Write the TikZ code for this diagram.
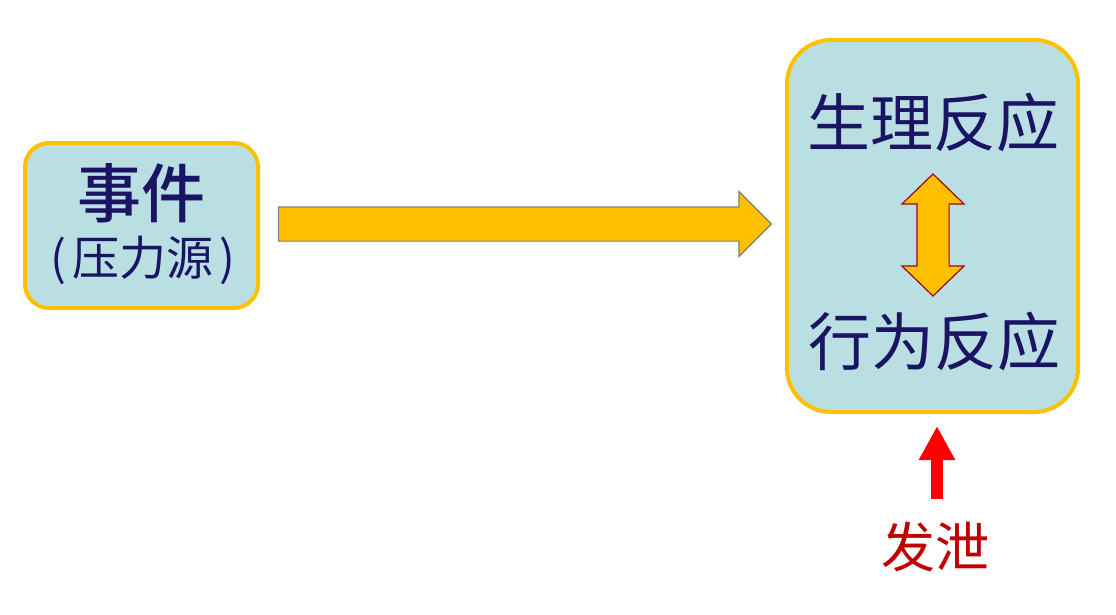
\documentclass[tikz,border=0pt]{standalone}
\usepackage{fontspec}
\setmainfont{Noto Sans CJK SC}
\newfontfamily\cjkmed{Noto Sans CJK SC Medium}
\usetikzlibrary{shapes.arrows,arrows.meta,positioning}
\definecolor{boxfill}{HTML}{BADFE3}
\definecolor{boxline}{HTML}{FFC000}
\definecolor{ink}{HTML}{1B1464}
\definecolor{ventred}{HTML}{C00000}
\definecolor{darkrim}{HTML}{A50021}

\begin{document}
\begin{tikzpicture}[x=1pt,y=-1pt,
  box/.style={draw=boxline,fill=boxfill,line width=4pt},
  bigtext/.style={text=ink,font=\fontsize{63}{70}\selectfont,inner sep=0pt},
  subtext/.style={text=ink,font=\fontsize{47}{52}\selectfont,inner sep=0pt}]
\useasboundingbox[fill=white] (0,0) rectangle (1116,614);

% stressor box
\node[box,rounded corners=24pt,minimum width=233pt,minimum height=165pt] (event) at (141.5,225.5) {};
\node[bigtext,font=\fontsize{64}{70}\selectfont\cjkmed] (eventtitle) at (141,193) {事件};
\node[subtext] (eventsub) at (143,260) {(\hspace{6pt}压力源\hspace{6pt})};

% reaction box
\node[box,rounded corners=44pt,minimum width=291pt,minimum height=372pt] (react) at (932.5,226) {};
\node[bigtext] (body) at (933,123) {生理反应};
\node[bigtext] (act) at (934,342) {行为反应};

% arrows
\node[single arrow,fill=boxline,draw=gray,line width=1.2pt,inner xsep=0pt,inner ysep=16.5pt,
  minimum height=493pt,minimum width=64pt,single arrow head extend=15.5pt,
  single arrow tip angle=90] (push) at (516.5,224) {};
\node[double arrow,fill=boxline,draw=darkrim,line width=1.2pt,inner xsep=0pt,inner ysep=15.5pt,rotate=90,
  minimum height=122pt,minimum width=61pt,double arrow head extend=15pt,
  double arrow tip angle=92] (link) at (933,235) {};

% venting
\node[text=ventred,font=\fontsize{54}{60}\selectfont,inner sep=0pt] (vent) at (935,547) {发泄};
\coordinate (venttail) at (937,499);
\coordinate (venttip) at (937,426);
\draw[red,line width=12pt,-{Triangle[width=34pt,length=34pt]}] (venttail) -- (venttip);
\end{tikzpicture}
\end{document}
